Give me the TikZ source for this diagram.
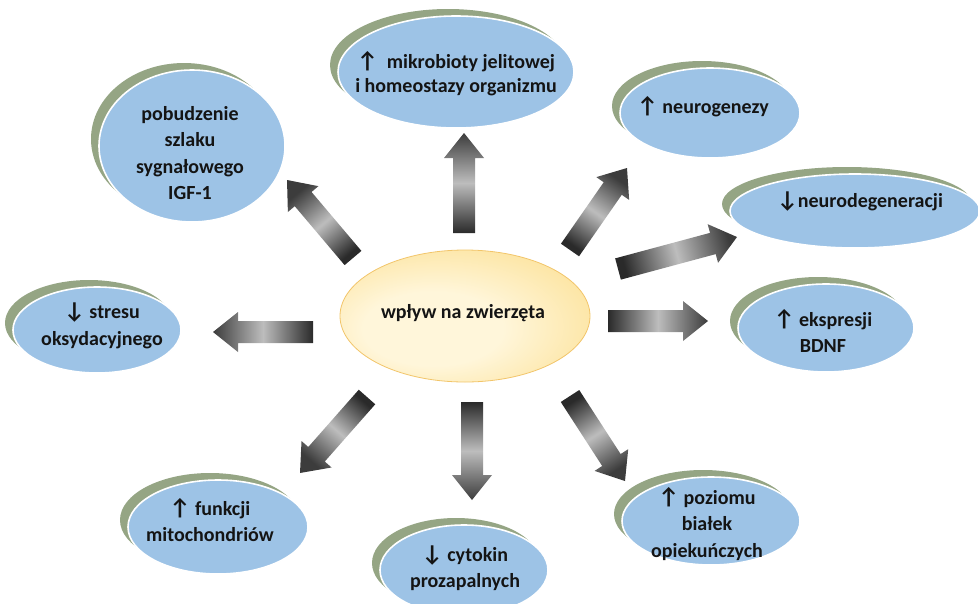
\documentclass[tikz,border=0pt]{standalone}
\usepackage{fontspec}
\setmainfont{Carlito}
\newfontfamily\arrfont{Carlito}
\usetikzlibrary{shapes.geometric,calc,shadows}
\definecolor{blueF}{HTML}{9DC3E6}
\definecolor{shadeG}{HTML}{95A584}
\definecolor{yelA}{HTML}{FFF6DA}
\definecolor{yelB}{HTML}{FAD36A}
\definecolor{yelD}{HTML}{F2C56A}
\definecolor{arDark}{HTML}{2A2A2A}
\definecolor{arHead}{HTML}{3C3C3C}
\definecolor{arLight}{HTML}{BDBDBD}
\pgfdeclareradialshading{yelshade}{\pgfpoint{-8bp}{-6bp}}{color(0bp)=(yelA); color(14bp)=(yelA); color(50bp)=(yelB); color(70bp)=(yelB)}
\newcommand\arUp{{\arrfont\bfseries\fontsize{23}{26}\selectfont\char"2191}}
\newcommand\arDn{{\arrfont\bfseries\fontsize{23}{26}\selectfont\char"2193}}
\newcommand\blockarrow[2]{%
  \coordinate (#1h) at ($(#1e)!25pt!(#1s)$);
  \path[arrowbody, shading angle=#2]
    ($(#1s)!11pt!90:(#1e)$) -- ($(#1h)!11pt!90:(#1e)$) -- ($(#1h)!20pt!90:(#1e)$) -- (#1e)
    -- ($(#1h)!20pt!-90:(#1e)$) -- ($(#1h)!11pt!-90:(#1e)$) -- ($(#1s)!11pt!-90:(#1e)$) -- cycle;}
\tikzset{
  bub/.style={ellipse, fill=blueF, draw=white, line width=1.6pt, inner sep=0pt,
    general shadow={fill=shadeG, shadow xshift=-8pt, shadow yshift=7pt}},
  lbl/.style={align=center, inner sep=0pt, text=black!92,
    font=\bfseries\fontsize{20}{26.5}\selectfont},
  arrowbody/.style={top color=arHead, bottom color=arDark, middle color=arLight}
}
\begin{document}
\begin{tikzpicture}[x=1pt,y=-1pt]
\useasboundingbox (0,0) rectangle (978,603);
\clip (0,0) rectangle (978,603);

% outer ellipses
\node[bub, minimum width=236pt, minimum height=112pt] (mikro) at (456,72) {};
\node[bub, minimum width=186pt, minimum height=152pt] (igf) at (192,146) {};
\node[bub, minimum width=180pt, minimum height=90pt] (neurog) at (710,113) {};
\node[bub, minimum width=250pt, minimum height=74pt] (neurod) at (855,211) {};
\node[bub, minimum width=176pt, minimum height=88pt] (bdnf) at (826,328) {};
\node[bub, minimum width=178pt, minimum height=88pt] (poz) at (711,521) {};
\node[bub, minimum width=168pt, minimum height=90pt] (cyt) at (464,570) {};
\node[bub, minimum width=180pt, minimum height=94pt] (mito) at (218,527) {};
\node[bub, minimum width=168pt, minimum height=86pt] (stres) at (97,330) {};

% centre
\node[ellipse, minimum width=250pt, minimum height=132pt, shade, shading=yelshade,
      draw=yelD, line width=0.8pt] (c) at (465,316) {};

% labels
\node[lbl, font=\bfseries\fontsize{20}{24}\selectfont] (mikro-t) at (456,74) {\arUp\ \ mikrobioty jelitowej\\i homeostazy organizmu};
\node[lbl] (igf-t) at (190,153) {pobudzenie\\szlaku\\sygnałowego\\IGF-1};
\node[lbl] (neurog-t) at (703,107) {\arUp\ neurogenezy};
\node[lbl] (neurod-t) at (860,202) {\arDn neurodegeneracji};
\node[lbl] (bdnf-t) at (823,331) {\arUp\ ekspresji\\BDNF};
\node[lbl] (poz-t) at (707,524) {\arUp\ poziomu\\białek\\opiekuńczych};
\node[lbl] (cyt-t) at (465,568) {\arDn\ cytokin\\prozapalnych};
\node[lbl] (mito-t) at (210,520) {\arUp\ funkcji\\mitochondriów};
\node[lbl] (stres-t) at (102,326) {\arDn\ stresu\\oksydacyjnego};
\node[lbl] (c-t) at (463,313) {wpływ na zwierzęta};

% arrow end points
\coordinate (a1s) at (464,233); \coordinate (a1e) at (464,133);
\coordinate (a2s) at (353,258); \coordinate (a2e) at (287,180);
\coordinate (a3s) at (570,250); \coordinate (a3e) at (627,168);
\coordinate (a4s) at (618,269); \coordinate (a4e) at (737,237);
\coordinate (a5s) at (608,321); \coordinate (a5e) at (708,321);
\coordinate (a6s) at (570,396); \coordinate (a6e) at (625,481);
\coordinate (a7s) at (472,402); \coordinate (a7e) at (472,500);
\coordinate (a8s) at (367,397); \coordinate (a8e) at (300,473);
\coordinate (a9s) at (313,332); \coordinate (a9e) at (213,332);

\blockarrow{a1}{0}
\blockarrow{a2}{40}
\blockarrow{a3}{-35}
\blockarrow{a4}{-75}
\blockarrow{a5}{-90}
\blockarrow{a6}{-147}
\blockarrow{a7}{180}
\blockarrow{a8}{-221}
\blockarrow{a9}{90}
\end{tikzpicture}
\end{document}
